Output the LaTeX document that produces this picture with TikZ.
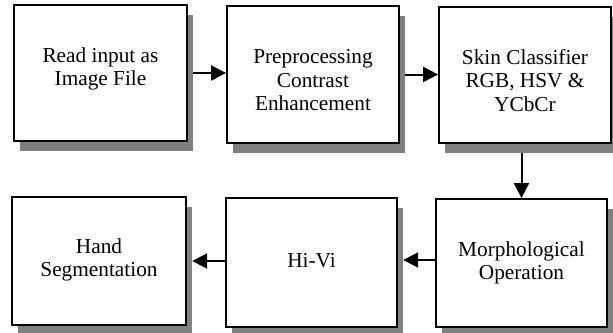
\documentclass[tikz,border=0pt]{standalone}
\usepackage{fontspec}
\setmainfont{Liberation Serif}
\usetikzlibrary{arrows.meta,backgrounds}
\tikzset{
  box/.style={draw=black, fill=white, line width=1.8pt, rectangle, inner sep=0pt},
  shade/.style={fill=gray, rectangle, inner sep=0pt, draw=none},
  label/.style={align=center, font=\fontsize{21.3}{23.5}\selectfont, inner sep=0pt},
  conn/.style={line width=2pt, -{Triangle[length=15pt,width=15pt]}}
}
\begin{document}
\begin{tikzpicture}[x=1pt,y=-1pt]
\useasboundingbox (0,0) rectangle (613,332);
% shadows
\node[shade, minimum width=173pt, minimum height=136pt] (s1) at (106.5,83) {};
\node[shade, minimum width=172pt, minimum height=137pt] (s2) at (319,84.5) {};
\node[shade, minimum width=172pt, minimum height=136pt] (s3) at (531,85) {};
\node[shade, minimum width=171pt, minimum height=128pt] (s4) at (527.5,273) {};
\node[shade, minimum width=171pt, minimum height=129pt] (s5) at (317.5,272.5) {};
\node[shade, minimum width=174pt, minimum height=128pt] (s6) at (105,271) {};
% boxes
\node[box, minimum width=173pt, minimum height=136pt] (b1) at (100.5,73) {};
\node[box, minimum width=172pt, minimum height=137pt] (b2) at (313,74.5) {};
\node[box, minimum width=172pt, minimum height=136pt] (b3) at (525,75) {};
\node[box, minimum width=171pt, minimum height=128pt] (b4) at (521.5,263) {};
\node[box, minimum width=171pt, minimum height=129pt] (b5) at (311.5,262.5) {};
\node[box, minimum width=174pt, minimum height=128pt] (b6) at (99,261) {};
% texts
\node[label] (t1) at (100.5,68.9) {Read input as\\Image File};
\node[label] (t2) at (313,80.4) {Preprocessing\\Contrast\\Enhancement};
\node[label] (t3) at (525,80.4) {Skin Classifier\\RGB, HSV \&\\YCbCr};
\node[label] (t4) at (521.5,262.7) {Morphological\\Operation};
\node[label] (t5) at (311.5,261) {Hi-Vi};
\node[label] (t6) at (99,259.7) {Hand\\Segmentation};
% connectors
\begin{scope}[on background layer]
\draw[conn] (b1.east) -- (b1.east -| b2.west);
\draw[conn] (b2.east) -- (b2.east -| b3.west);
\draw[conn] (b3.south -| b4.north) -- (b4.north);
\draw[conn] ([yshift=3pt]b4.west) -- ([yshift=3pt]b4.west -| s5.east);
\draw[conn] ([yshift=1.5pt]b5.west) -- ([yshift=1.5pt]b5.west -| s6.east);
\end{scope}
\end{tikzpicture}
\end{document}
